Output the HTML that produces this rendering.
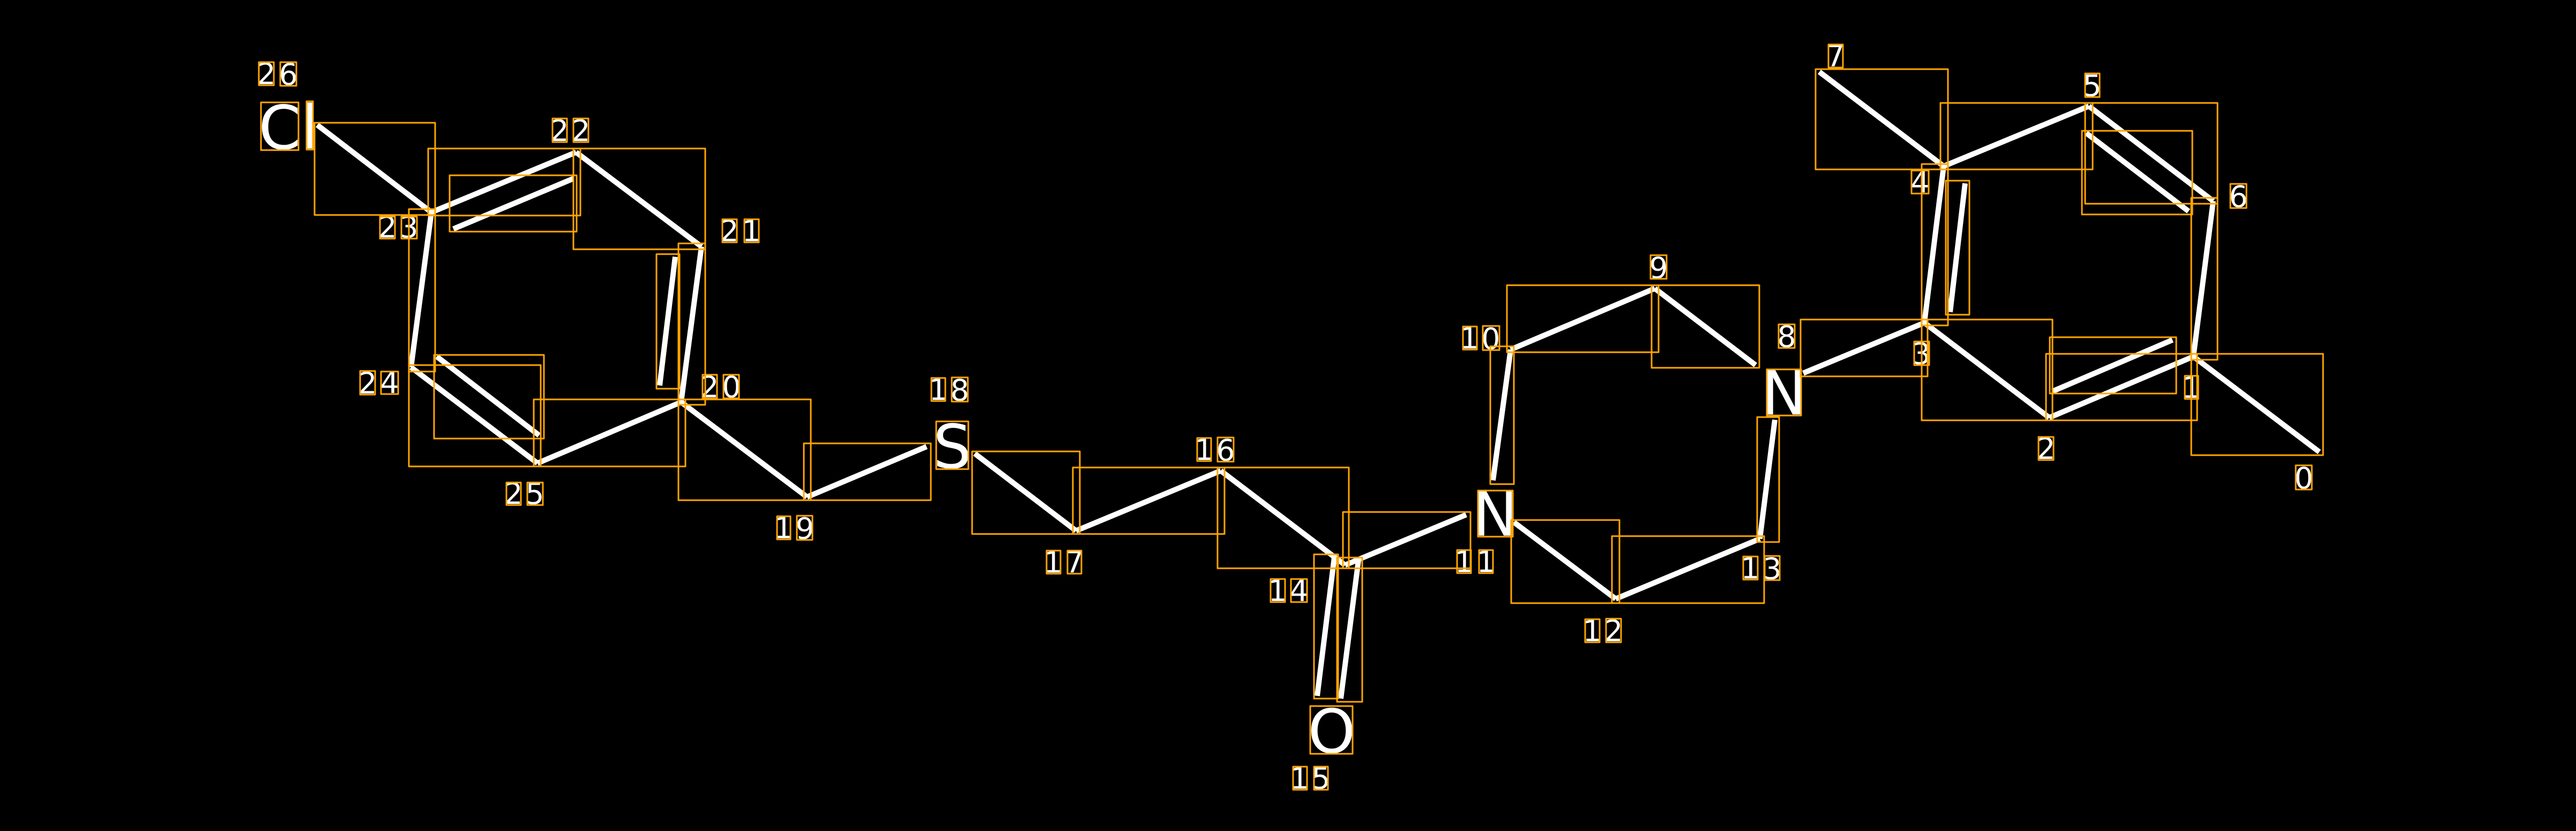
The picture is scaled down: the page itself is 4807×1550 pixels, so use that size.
<!DOCTYPE html>
<html><head><meta charset="utf-8"><title>Molecule</title>
<style>
html,body{margin:0;padding:0;background:#000;width:4807px;height:1550px;overflow:hidden}
svg{display:block}
line{stroke:#fff;stroke-width:10;stroke-linecap:butt}
rect{fill:none;stroke:#FFA500;stroke-width:3;stroke-linejoin:round}
text{fill:#fff;font-family:"DejaVu Sans",sans-serif;text-anchor:middle}
.d{font-size:55px}.a{font-size:113px}
</style></head><body>
<svg xmlns="http://www.w3.org/2000/svg" width="4807" height="1550" viewBox="0 0 4807 1550">
<rect x="0" y="0" width="4807" height="1550" style="fill:#000;stroke:none"/>
<!-- bonds -->
<line x1="592" y1="233" x2="805" y2="396"/>
<line x1="805" y1="396" x2="1075" y2="284"/>
<line x1="846" y1="427" x2="1070" y2="333"/>
<line x1="1075" y1="284" x2="1309" y2="460"/>
<line x1="1309" y1="460" x2="1271" y2="750"/>
<line x1="1260" y1="479" x2="1231" y2="719"/>
<line x1="1271" y1="750" x2="1003" y2="864"/>
<line x1="1003" y1="864" x2="767" y2="685"/>
<line x1="815" y1="665" x2="1006" y2="812"/>
<line x1="767" y1="685" x2="805" y2="396"/>
<line x1="1271" y1="750" x2="1506" y2="927"/>
<line x1="1506" y1="927" x2="1729" y2="833"/>
<line x1="1819" y1="846" x2="2008" y2="990"/>
<line x1="2008" y1="990" x2="2278" y2="878"/>
<line x1="2278" y1="878" x2="2510" y2="1054"/>
<line x1="2490" y1="1039" x2="2458" y2="1298"/>
<line x1="2535" y1="1045" x2="2502" y2="1303"/>
<line x1="2510" y1="1054" x2="2736" y2="960"/>
<line x1="2825" y1="974" x2="3015" y2="1117"/>
<line x1="3015" y1="1117" x2="3284" y2="1005"/>
<line x1="3284" y1="1005" x2="3312" y2="783"/>
<line x1="2819" y1="652" x2="2786" y2="896"/>
<line x1="2819" y1="652" x2="3088" y2="538"/>
<line x1="3088" y1="538" x2="3276" y2="681"/>
<line x1="3365" y1="696" x2="3591" y2="602"/>
<line x1="3591" y1="602" x2="3824" y2="779"/>
<line x1="3824" y1="779" x2="4093" y2="665"/>
<line x1="3830" y1="730" x2="4054" y2="634"/>
<line x1="4093" y1="665" x2="4328" y2="843"/>
<line x1="4093" y1="665" x2="4130" y2="375"/>
<line x1="4130" y1="375" x2="3898" y2="198"/>
<line x1="3893" y1="248" x2="4084" y2="394"/>
<line x1="3898" y1="198" x2="3627" y2="310"/>
<line x1="3627" y1="310" x2="3395" y2="134"/>
<line x1="3627" y1="310" x2="3591" y2="602"/>
<line x1="3667" y1="342" x2="3639" y2="582"/>
<!-- atoms -->
<text class="a" x="522" y="278">C</text>
<text class="a" x="578" y="277">l</text>
<text class="a" x="1777" y="873">S</text>
<text class="a" x="2485" y="1404">O</text>
<text class="a" x="2790" y="999">N</text>
<text class="a" x="3329" y="773">N</text>
<!-- index labels -->
<text class="d" x="497" y="157">2</text><text class="d" x="538" y="158">6</text>
<text class="d" x="723" y="443">2</text><text class="d" x="763" y="443">3</text>
<text class="d" x="1044" y="263">2</text><text class="d" x="1084" y="263">2</text>
<text class="d" x="1361" y="450">2</text><text class="d" x="1402" y="450">1</text>
<text class="d" x="1324" y="741">2</text><text class="d" x="1365" y="741">0</text>
<text class="d" x="686" y="734">2</text><text class="d" x="727" y="733">4</text>
<text class="d" x="958" y="940">2</text><text class="d" x="998" y="940">5</text>
<text class="d" x="1751" y="746">1</text><text class="d" x="1791" y="747">8</text>
<text class="d" x="1462" y="1004">1</text><text class="d" x="1502" y="1005">9</text>
<text class="d" x="1965" y="1068">1</text><text class="d" x="2005" y="1068">7</text>
<text class="d" x="2247" y="858">1</text><text class="d" x="2287" y="859">6</text>
<text class="d" x="2384" y="1121">1</text><text class="d" x="2424" y="1121">4</text>
<text class="d" x="2425" y="1471">1</text><text class="d" x="2465" y="1471">5</text>
<text class="d" x="3095" y="519">9</text>
<text class="d" x="2742" y="650">1</text><text class="d" x="2782" y="651">0</text>
<text class="d" x="3334" y="647">8</text>
<text class="d" x="2732" y="1067">1</text><text class="d" x="2773" y="1067">1</text>
<text class="d" x="2971" y="1196">1</text><text class="d" x="3011" y="1196">2</text>
<text class="d" x="3266" y="1079">1</text><text class="d" x="3307" y="1080">3</text>
<text class="d" x="3425" y="124">7</text>
<text class="d" x="3904" y="179">5</text>
<text class="d" x="3583" y="359">4</text>
<text class="d" x="4177" y="386">6</text>
<text class="d" x="3585" y="679">3</text>
<text class="d" x="4089" y="742">1</text>
<text class="d" x="3818" y="856">2</text>
<text class="d" x="4299" y="911">0</text>
<!-- bond boxes -->
<rect x="587" y="229" width="225" height="172"/>
<rect x="799" y="277" width="284" height="125"/>
<rect x="839" y="327" width="237" height="105"/>
<rect x="1070" y="277" width="246" height="188"/>
<rect x="1266" y="454" width="50" height="301"/>
<rect x="1225" y="474" width="43" height="251"/>
<rect x="996" y="745" width="283" height="125"/>
<rect x="763" y="681" width="246" height="189"/>
<rect x="810" y="662" width="205" height="156"/>
<rect x="763" y="390" width="49" height="303"/>
<rect x="1266" y="745" width="247" height="188"/>
<rect x="1500" y="827" width="237" height="106"/>
<rect x="1814" y="842" width="201" height="154"/>
<rect x="2002" y="872" width="283" height="124"/>
<rect x="2272" y="872" width="245" height="188"/>
<rect x="2452" y="1034" width="45" height="269"/>
<rect x="2495" y="1040" width="47" height="269"/>
<rect x="2506" y="955" width="238" height="105"/>
<rect x="2820" y="970" width="202" height="155"/>
<rect x="3008" y="1000" width="284" height="125"/>
<rect x="3279" y="778" width="41" height="233"/>
<rect x="2781" y="646" width="44" height="257"/>
<rect x="2812" y="532" width="283" height="125"/>
<rect x="3082" y="532" width="201" height="154"/>
<rect x="3360" y="596" width="237" height="106"/>
<rect x="3586" y="596" width="244" height="188"/>
<rect x="3818" y="660" width="282" height="124"/>
<rect x="3825" y="629" width="236" height="105"/>
<rect x="4089" y="660" width="246" height="189"/>
<rect x="4089" y="369" width="49" height="302"/>
<rect x="3891" y="192" width="247" height="188"/>
<rect x="3885" y="244" width="206" height="156"/>
<rect x="3621" y="192" width="284" height="124"/>
<rect x="3388" y="129" width="247" height="187"/>
<rect x="3586" y="306" width="49" height="301"/>
<rect x="3631" y="337" width="44" height="250"/>
<!-- atom boxes -->
<rect x="487" y="191" width="70" height="89"/>
<rect x="572" y="189" width="12" height="90"/>
<rect x="1747" y="786" width="60" height="89"/>
<rect x="2445" y="1317" width="79" height="89"/>
<rect x="2758" y="915" width="65" height="86"/>
<rect x="3297" y="689" width="64" height="86"/>
<!-- char boxes -->
<rect x="483" y="116" width="28" height="43"/><rect x="523" y="116" width="30" height="44"/>
<rect x="709" y="404" width="28" height="41"/><rect x="749" y="404" width="29" height="41"/>
<rect x="1031" y="221" width="27" height="44"/><rect x="1070" y="221" width="28" height="44"/>
<rect x="1348" y="409" width="27" height="43"/><rect x="1389" y="409" width="27" height="43"/>
<rect x="1311" y="699" width="27" height="44"/><rect x="1350" y="699" width="29" height="44"/>
<rect x="672" y="692" width="28" height="44"/><rect x="711" y="693" width="32" height="42"/>
<rect x="945" y="900" width="27" height="42"/><rect x="984" y="900" width="29" height="42"/>
<rect x="1738" y="705" width="26" height="43"/><rect x="1776" y="704" width="30" height="45"/>
<rect x="1450" y="963" width="25" height="43"/><rect x="1487" y="962" width="29" height="45"/>
<rect x="1953" y="1027" width="26" height="43"/><rect x="1992" y="1027" width="26" height="43"/>
<rect x="2234" y="817" width="26" height="43"/><rect x="2272" y="816" width="30" height="45"/>
<rect x="2371" y="1080" width="27" height="43"/><rect x="2409" y="1080" width="30" height="43"/>
<rect x="2413" y="1430" width="26" height="43"/><rect x="2452" y="1430" width="26" height="43"/>
<rect x="3080" y="476" width="30" height="44"/>
<rect x="2730" y="609" width="26" height="43"/><rect x="2767" y="608" width="31" height="45"/>
<rect x="3319" y="605" width="30" height="44"/>
<rect x="2719" y="1026" width="26" height="43"/><rect x="2760" y="1026" width="26" height="43"/>
<rect x="2958" y="1155" width="27" height="43"/><rect x="2997" y="1154" width="28" height="44"/>
<rect x="3253" y="1038" width="27" height="43"/><rect x="3293" y="1037" width="28" height="45"/>
<rect x="3412" y="83" width="27" height="43"/>
<rect x="3891" y="137" width="27" height="44"/>
<rect x="3567" y="318" width="32" height="43"/>
<rect x="4162" y="343" width="30" height="45"/>
<rect x="3572" y="637" width="28" height="44"/>
<rect x="4077" y="701" width="25" height="43"/>
<rect x="3804" y="815" width="28" height="43"/>
<rect x="4284" y="868" width="30" height="45"/>
</svg>
</body></html>
